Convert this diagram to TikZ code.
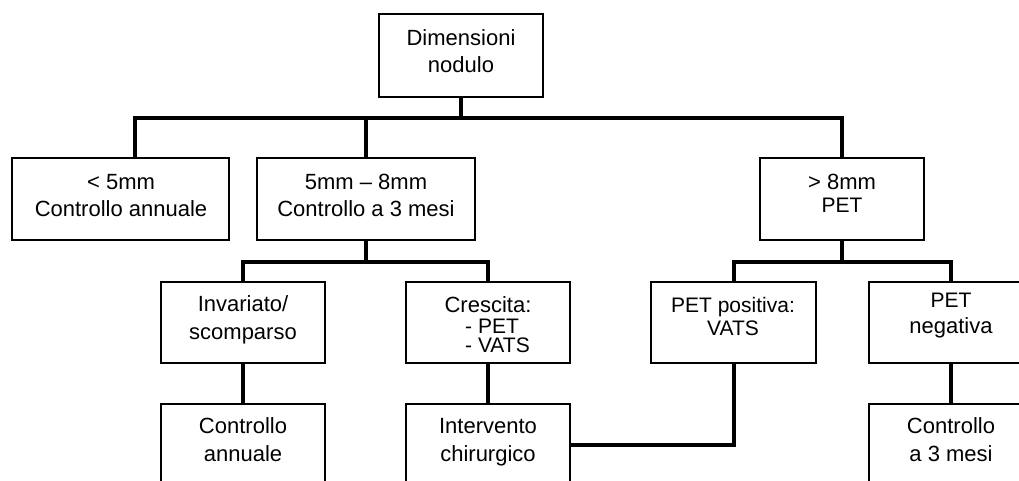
\documentclass[tikz,border=0pt]{standalone}
\usepackage{fontspec}
\setmainfont{Liberation Sans}
\begin{document}
\begin{tikzpicture}[x=1pt,y=-1pt,
  box/.style={draw=black, line width=1.4pt, inner sep=0pt, fill=white},
  conn/.style={draw=black, line width=4pt, line join=miter},
  txt/.style={anchor=base, inner sep=0pt, font=\fontsize{22}{26}\selectfont},
  smalltxt/.style={anchor=base, inner sep=0pt, font=\fontsize{21}{24}\selectfont}]
\useasboundingbox (0,0) rectangle (1019,480);
\clip (0,0) rectangle (1019,480);
% boxes
\node[box, minimum width=164pt, minimum height=83pt] (R) at (461,55.5) {};
\node[box, minimum width=217pt, minimum height=82pt] (A) at (120.5,199) {};
\node[box, minimum width=218pt, minimum height=82pt] (B) at (366,199) {};
\node[box, minimum width=164pt, minimum height=82pt] (C) at (842,199) {};
\node[box, minimum width=164pt, minimum height=81pt] (D) at (243,322.5) {};
\node[box, minimum width=164pt, minimum height=81pt] (E) at (488,322.5) {};
\node[box, minimum width=165pt, minimum height=81pt] (F) at (733.5,322.5) {};
\node[box, minimum width=164pt, minimum height=81pt] (G) at (951,322.5) {};
\node[box, minimum width=164pt, minimum height=82pt] (H) at (243,445) {};
\node[box, minimum width=164pt, minimum height=82pt] (I) at (488,445) {};
\node[box, minimum width=164pt, minimum height=82pt] (J) at (951,445) {};
% texts
\node[txt] (R1) at (461,45) {Dimensioni};
\node[txt] (R2) at (461,72) {nodulo};
\node[txt] (A1) at (121,189) {< 5mm};
\node[txt] (A2) at (121,216) {Controllo annuale};
\node[txt] (B1) at (366,189) {5mm – 8mm};
\node[txt] (B2) at (366,216) {Controllo a 3 mesi};
\node[txt] (C1) at (842,189) {> 8mm};
\node[smalltxt] (C2) at (842,212) {PET};
\node[txt] (D1) at (243,311) {Invariato/};
\node[txt] (D2) at (243,339) {scomparso};
\node[txt] (E1) at (488,312) {Crescita:};
\node[smalltxt, anchor=base west] (E2) at (465,333) {- PET};
\node[smalltxt, anchor=base west] (E3) at (465,352) {- VATS};
\node[smalltxt] (F1) at (733,312) {PET positiva:};
\node[smalltxt] (F2) at (733,335) {VATS};
\node[smalltxt] (G1) at (951,307) {PET};
\node[txt] (G2) at (951,333) {negativa};
\node[txt] (H1) at (243,433) {Controllo};
\node[txt] (H2) at (243,461) {annuale};
\node[txt] (I1) at (488,433) {Intervento};
\node[txt] (I2) at (488,461) {chirurgico};
\node[txt] (J1) at (951,433) {Controllo};
\node[txt] (J2) at (951,461) {a 3 mesi};
% connectors
\coordinate (bus1) at (461,118);
\coordinate (Atop) at (135,158);
\coordinate (bus2) at (366,262);
\coordinate (bus3) at (842,262);
\draw[conn] (R.south) -- (bus1);
\draw[conn] (Atop) |- (bus1) -| (C.north);
\draw[conn] (B.north) -- (B.north |- bus1);
\draw[conn] (B.south) -- (bus2);
\draw[conn] (D.north) |- (bus2) -| (E.north);
\draw[conn] (C.south) -- (bus3);
\draw[conn] (F.north) |- (bus3) -| (G.north);
\draw[conn] (D.south) -- (H.north);
\draw[conn] (E.south) -- (I.north);
\draw[conn] (G.south) -- (J.north);
\draw[conn] (F.south) |- (I.east);
\end{tikzpicture}
\end{document}
